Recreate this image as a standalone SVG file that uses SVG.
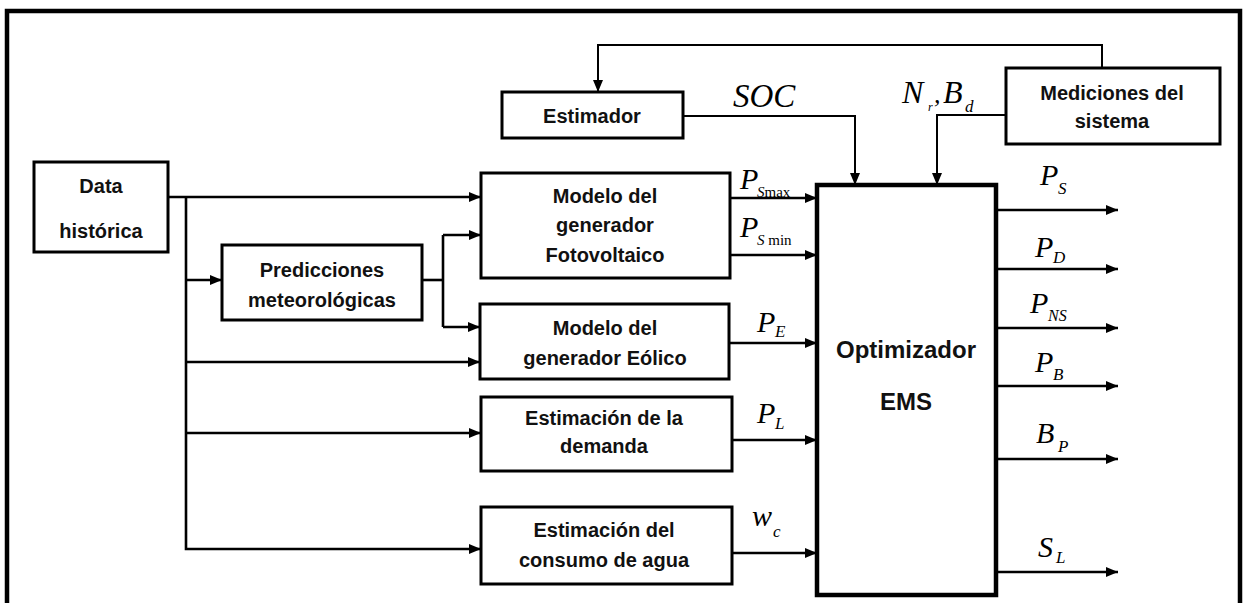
<svg xmlns="http://www.w3.org/2000/svg" width="1249" height="603" viewBox="0 0 1249 603">
<style>
.box{fill:#fff;stroke:#000;stroke-width:3}
.big{fill:#fff;stroke:#000;stroke-width:4.5}
.t{font-family:"Liberation Sans",Arial,sans-serif;font-weight:bold;font-size:20px;fill:#111;text-anchor:middle}
.m{font-family:"Liberation Serif","Times New Roman",serif;font-style:italic;fill:#000}
.ln{fill:none;stroke:#000;stroke-width:2.6}
.thin{fill:none;stroke:#000;stroke-width:2}
</style>
<defs>
<marker id="ah" viewBox="0 0 12 10" refX="12" refY="5" markerWidth="12" markerHeight="10" markerUnits="userSpaceOnUse" orient="auto">
<path d="M0,0 L12,5 L0,10 z" fill="#000"/>
</marker>
</defs>
<rect width="1249" height="603" fill="#fff"/>
<path d="M7,610 V11 H1240 V610" fill="none" stroke="#000" stroke-width="4.5"/>

<g id="connectors">
<path class="ln" d="M168,197 H481" marker-end="url(#ah)"/>
<path class="ln" d="M186,197 V549 H481" marker-end="url(#ah)"/>
<path class="ln" d="M186,280 H222" marker-end="url(#ah)"/>
<path class="ln" d="M186,362 H480" marker-end="url(#ah)"/>
<path class="ln" d="M186,433 H481" marker-end="url(#ah)"/>
<path class="ln" d="M422,280 H443"/>
<path class="ln" d="M443,235 V327"/>
<path class="ln" d="M443,235 H481" marker-end="url(#ah)"/>
<path class="ln" d="M443,327 H480" marker-end="url(#ah)"/>
<path class="ln" d="M730,198 H817" marker-end="url(#ah)"/>
<path class="ln" d="M730,255 H817" marker-end="url(#ah)"/>
<path class="ln" d="M729,343 H817" marker-end="url(#ah)"/>
<path class="ln" d="M732,440 H817" marker-end="url(#ah)"/>
<path class="ln" d="M732,553 H817" marker-end="url(#ah)"/>
<path class="thin" d="M683,116 H855 V185" marker-end="url(#ah)"/>
<path class="thin" d="M1006,115 H937 V185" marker-end="url(#ah)"/>
<path class="thin" d="M1102,68 V45 H598 V92" marker-end="url(#ah)"/>
<path class="ln" d="M996,210 H1118" marker-end="url(#ah)"/>
<path class="ln" d="M996,269 H1118" marker-end="url(#ah)"/>
<path class="ln" d="M996,328 H1118" marker-end="url(#ah)"/>
<path class="ln" d="M996,386 H1118" marker-end="url(#ah)"/>
<path class="ln" d="M996,459 H1118" marker-end="url(#ah)"/>
<path class="ln" d="M996,572 H1118" marker-end="url(#ah)"/>
</g>

<g id="data">
<rect class="box" x="34" y="162" width="134" height="90"/>
<text class="t" x="101" y="193">Data</text>
<text class="t" x="101" y="238">histórica</text>
</g>
<g id="predicciones">
<rect class="box" x="222" y="245" width="200" height="75"/>
<text class="t" x="322" y="277">Predicciones</text>
<text class="t" x="322" y="307">meteorológicas</text>
</g>
<g id="fotovoltaico">
<rect class="box" x="481" y="173" width="249" height="105"/>
<text class="t" x="605" y="203">Modelo del</text>
<text class="t" x="605" y="232">generador</text>
<text class="t" x="605" y="262">Fotovoltaico</text>
</g>
<g id="eolico">
<rect class="box" x="480" y="304" width="249" height="75"/>
<text class="t" x="605" y="335">Modelo del</text>
<text class="t" x="605" y="365">generador Eólico</text>
</g>
<g id="demanda">
<rect class="box" x="481" y="397" width="251" height="74"/>
<text class="t" x="604" y="425">Estimación de la</text>
<text class="t" x="604" y="453">demanda</text>
</g>
<g id="agua">
<rect class="box" x="481" y="507" width="251" height="77"/>
<text class="t" x="604" y="537">Estimación del</text>
<text class="t" x="604" y="567">consumo de agua</text>
</g>
<g id="estimador">
<rect class="box" x="502" y="92" width="181" height="46"/>
<text class="t" x="592" y="123">Estimador</text>
</g>
<g id="mediciones">
<rect class="box" x="1006" y="68" width="214" height="76"/>
<text class="t" x="1112" y="100">Mediciones del</text>
<text class="t" x="1112" y="128">sistema</text>
</g>
<g id="optimizador">
<rect class="big" x="817" y="185" width="179" height="410"/>
<text class="t" x="906" y="358" style="font-size:24px">Optimizador</text>
<text class="t" x="906" y="410" style="font-size:24px">EMS</text>
</g>

<g id="labels">
<text class="m" x="733" y="107" font-size="33">SOC</text>
<text class="m" x="902" y="103" font-size="32">N</text>
<text class="m" x="928" y="111" font-size="12">r</text>
<text class="m" x="934" y="103" font-size="26" font-style="normal">,</text>
<text class="m" x="943" y="103" font-size="32">B</text>
<text class="m" x="965" y="112" font-size="17">d</text>

<text class="m" x="740" y="189" font-size="30">P</text>
<text class="m" x="757" y="197" font-size="15">S<tspan font-style="normal">max</tspan></text>
<text class="m" x="740" y="237" font-size="30">P</text>
<text class="m" x="757" y="245" font-size="15">S<tspan font-style="normal"> min</tspan></text>
<text class="m" x="757" y="332" font-size="30">P</text>
<text class="m" x="775" y="337" font-size="17">E</text>
<text class="m" x="757" y="423" font-size="30">P</text>
<text class="m" x="775" y="429" font-size="17">L</text>
<text class="m" x="752" y="526" font-size="30">w</text>
<text class="m" x="773" y="537" font-size="17">c</text>

<text class="m" x="1040" y="185" font-size="30">P</text>
<text class="m" x="1058" y="194" font-size="17">S</text>
<text class="m" x="1035" y="257" font-size="30">P</text>
<text class="m" x="1053" y="263" font-size="17">D</text>
<text class="m" x="1030" y="313" font-size="30">P</text>
<text class="m" x="1048" y="321" font-size="16">NS</text>
<text class="m" x="1035" y="372" font-size="30">P</text>
<text class="m" x="1053" y="380" font-size="17">B</text>
<text class="m" x="1036" y="443" font-size="30">B</text>
<text class="m" x="1058" y="452" font-size="17">P</text>
<text class="m" x="1038" y="557" font-size="30">S</text>
<text class="m" x="1056" y="563" font-size="17">L</text>
</g>
</svg>
